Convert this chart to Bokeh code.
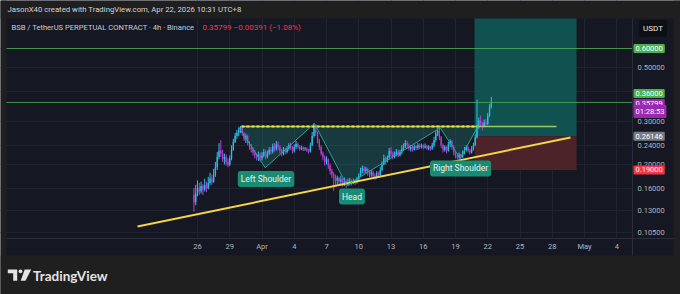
import math
from bokeh.plotting import figure
from bokeh.models import (ColumnDataSource, FixedTicker, Label, BoxAnnotation,
                          PolyAnnotation, PrintfTickFormatter)
from bokeh.embed import file_html
from bokeh.resources import INLINE

# ---------------- data ----------------
# x values are "day numbers" counted from March (Mar 26 = 26, Apr 1 = 32, May 1 = 62)
candle_start_day = 25 + 16 / 24      # first 4h candle: Mar 25 16:00
candle_step_day = 4 / 24
first_open = 0.150
closes = [
    0.140, 0.152, 0.160, 0.155, 0.163, 0.158, 0.165, 0.160, 0.168, 0.175,
    0.170, 0.182, 0.195, 0.215, 0.228, 0.222, 0.210, 0.215, 0.205, 0.200,
    0.212, 0.230, 0.248, 0.262, 0.270, 0.278, 0.283, 0.268, 0.255, 0.262,
    0.245, 0.238, 0.230, 0.224, 0.218, 0.214, 0.220, 0.212, 0.218, 0.225,
    0.215, 0.222, 0.230, 0.226, 0.238, 0.232, 0.242, 0.236, 0.228, 0.222,
    0.230, 0.225, 0.232, 0.240, 0.234, 0.228, 0.236, 0.243, 0.236, 0.232,
    0.235, 0.231, 0.233, 0.229, 0.226, 0.240, 0.262, 0.285, 0.270, 0.250,
    0.236, 0.222, 0.214, 0.205, 0.210, 0.198, 0.188, 0.182, 0.178, 0.172,
    0.176, 0.170, 0.174, 0.168, 0.171, 0.166, 0.169, 0.172, 0.168, 0.171,
    0.170, 0.174, 0.180, 0.188, 0.194, 0.188, 0.192, 0.186, 0.182, 0.186,
    0.180, 0.178, 0.184, 0.181, 0.190, 0.200, 0.212, 0.206, 0.214, 0.228,
    0.222, 0.215, 0.220, 0.226, 0.218, 0.224, 0.232, 0.238, 0.245, 0.240,
    0.232, 0.236, 0.230, 0.238, 0.234, 0.240, 0.236, 0.240, 0.235, 0.238,
    0.233, 0.237, 0.232, 0.240, 0.252, 0.268, 0.276, 0.258, 0.240, 0.230,
    0.236, 0.228, 0.242, 0.250, 0.236, 0.224, 0.218, 0.214, 0.220, 0.216,
    0.224, 0.230, 0.236, 0.228, 0.224, 0.232, 0.240, 0.258, 0.284, 0.304,
    0.296, 0.288, 0.298, 0.294, 0.318, 0.346, 0.35799,
]
highs = [
    0.160, 0.165, 0.172, 0.168, 0.170, 0.166, 0.175, 0.170, 0.178, 0.185,
    0.182, 0.192, 0.205, 0.225, 0.245, 0.252, 0.230, 0.222, 0.220, 0.212,
    0.218, 0.240, 0.255, 0.270, 0.278, 0.283, 0.288, 0.286, 0.272, 0.268,
    0.265, 0.250, 0.243, 0.236, 0.230, 0.222, 0.226, 0.224, 0.225, 0.232,
    0.230, 0.228, 0.236, 0.236, 0.244, 0.245, 0.250, 0.248, 0.240, 0.232,
    0.236, 0.234, 0.238, 0.245, 0.246, 0.238, 0.242, 0.250, 0.246, 0.240,
    0.239, 0.237, 0.236, 0.235, 0.232, 0.246, 0.272, 0.296, 0.292, 0.274,
    0.255, 0.240, 0.226, 0.218, 0.216, 0.212, 0.202, 0.192, 0.186, 0.182,
    0.180, 0.178, 0.180, 0.176, 0.177, 0.174, 0.175, 0.176, 0.174, 0.175,
    0.174, 0.178, 0.184, 0.194, 0.198, 0.197, 0.196, 0.194, 0.190, 0.190,
    0.189, 0.184, 0.188, 0.187, 0.196, 0.206, 0.220, 0.216, 0.218, 0.234,
    0.236, 0.226, 0.226, 0.232, 0.230, 0.230, 0.240, 0.244, 0.252, 0.250,
    0.244, 0.240, 0.240, 0.242, 0.241, 0.245, 0.244, 0.244, 0.242, 0.244,
    0.241, 0.240, 0.238, 0.246, 0.260, 0.276, 0.282, 0.285, 0.262, 0.244,
    0.240, 0.238, 0.248, 0.254, 0.252, 0.240, 0.228, 0.222, 0.224, 0.222,
    0.228, 0.236, 0.240, 0.238, 0.232, 0.238, 0.246, 0.266, 0.370, 0.312,
    0.318, 0.300, 0.306, 0.308, 0.326, 0.354, 0.380,
]
lows = [
    0.128, 0.136, 0.148, 0.150, 0.152, 0.150, 0.155, 0.154, 0.158, 0.165,
    0.165, 0.168, 0.178, 0.190, 0.210, 0.215, 0.205, 0.200, 0.198, 0.195,
    0.197, 0.208, 0.228, 0.245, 0.255, 0.262, 0.270, 0.262, 0.250, 0.245,
    0.240, 0.230, 0.224, 0.218, 0.212, 0.208, 0.207, 0.206, 0.208, 0.214,
    0.210, 0.212, 0.218, 0.220, 0.222, 0.226, 0.228, 0.230, 0.222, 0.216,
    0.218, 0.220, 0.222, 0.228, 0.230, 0.222, 0.224, 0.232, 0.232, 0.228,
    0.229, 0.227, 0.228, 0.225, 0.222, 0.224, 0.238, 0.258, 0.262, 0.244,
    0.230, 0.218, 0.208, 0.198, 0.200, 0.192, 0.182, 0.176, 0.156, 0.165,
    0.165, 0.164, 0.166, 0.162, 0.163, 0.160, 0.163, 0.164, 0.164, 0.166,
    0.165, 0.167, 0.172, 0.178, 0.184, 0.183, 0.184, 0.180, 0.177, 0.178,
    0.176, 0.173, 0.175, 0.177, 0.179, 0.188, 0.198, 0.200, 0.204, 0.210,
    0.215, 0.210, 0.212, 0.216, 0.214, 0.216, 0.220, 0.228, 0.234, 0.232,
    0.228, 0.226, 0.226, 0.228, 0.229, 0.230, 0.232, 0.233, 0.231, 0.233,
    0.230, 0.229, 0.228, 0.230, 0.236, 0.248, 0.262, 0.252, 0.234, 0.224,
    0.226, 0.222, 0.226, 0.236, 0.230, 0.218, 0.212, 0.210, 0.211, 0.211,
    0.213, 0.220, 0.226, 0.224, 0.220, 0.222, 0.228, 0.238, 0.256, 0.280,
    0.288, 0.276, 0.284, 0.286, 0.290, 0.314, 0.340,
]

tick_days = [26, 29, 32, 35, 38, 41, 44, 47, 50, 53, 56, 59, 62, 65]
tick_day_labels = ["26", "29", "Apr", "4", "7", "10", "13", "16", "19", "22", "25", "28", "May", "4"]
price_ticks = [0.105, 0.13, 0.16, 0.20, 0.24, 0.30, 0.40, 0.50, 0.60]

trend_days = [20.42, 60.70]
trend_prices = [0.1112, 0.2583]

neck_days = [30.09, 52.10, 59.40]
neck_price = 0.2867

hs_days = [29.81, 32.30, 36.88, 39.89, 48.58, 50.44, 52.14]
hs_prices = [0.2858, 0.1939, 0.2950, 0.1644, 0.2831, 0.2117, 0.2902]

hs_label_text = ["Left Shoulder", "Head", "Right Shoulder"]
hs_label_days = [32.37, 40.37, 50.47]
hs_label_prices = [0.1744, 0.1477, 0.1926]

hline_prices = [0.60, 0.36]
entry_price = 0.26146
stop_price = 0.19
position_days = [51.77, 61.26]
last_price = 0.35799
countdown = "01:28:53"

# ---------------- layout helpers (pixel -> data) ----------------
W, H = 680, 294
PX_DAY0, DAY0, PX_PER_DAY = 197.0, 26.0, 10.75
PY_REF, P_REF, PX_PER_LN = 48.0, 0.60, 105.6


def day_at(px):
    return DAY0 + (px - PX_DAY0) / PX_PER_DAY


def price_at(py):
    return P_REF * math.exp(-(py - PY_REF) / PX_PER_LN)


def py_of(price):
    return PY_REF + math.log(P_REF / price) * PX_PER_LN


PANEL = "#151823"
OUTER = "#1f1f1f"
SEP = "#2a2e39"
AXIS_TXT = "#b2b5be"
UP = "#29bfe8"
DOWN = "#b43fd3"
PANEL_L, PANEL_R, PANEL_T, PANEL_B = 6, 673, 18, 255
SCALE_X, TIME_Y = 632, 238

p = figure(width=W, height=H,
           x_range=(day_at(0), day_at(W)), y_range=(price_at(H), price_at(0)),
           y_axis_type="log", y_axis_location="right",
           output_backend="svg", toolbar_location=None,
           min_border_left=0, min_border_right=0, min_border_top=0, min_border_bottom=0)
p.title.visible = False
p.background_fill_color = PANEL
p.border_fill_color = OUTER
p.outline_line_color = None

# axes drawn at the pane separators
xt = FixedTicker(ticks=tick_days)
p.xaxis.ticker = xt
p.xgrid.ticker = xt
p.xaxis.major_label_overrides = {d: s for d, s in zip(tick_days, tick_day_labels)}
p.xaxis.fixed_location = price_at(TIME_Y)
p.xaxis.bounds = (day_at(PANEL_L), day_at(PANEL_R))
yt = FixedTicker(ticks=price_ticks)
p.yaxis.ticker = yt
p.ygrid.ticker = yt
p.yaxis.formatter = PrintfTickFormatter(format="%.5f")
p.yaxis.major_label_overrides = {0.4: ""}
p.yaxis.fixed_location = day_at(SCALE_X)
p.yaxis.bounds = (price_at(PANEL_B), price_at(PANEL_T))
for ax in (p.xaxis[0], p.yaxis[0]):
    ax.axis_line_color = SEP
    ax.major_tick_line_color = None
    ax.minor_tick_line_color = None
    ax.major_tick_in = 0
    ax.major_tick_out = 0
    ax.major_label_text_color = AXIS_TXT
    ax.major_label_text_font = "Roboto"
    ax.major_label_text_font_size = "7.5px"
p.xaxis.major_label_standoff = 3
p.yaxis.major_label_standoff = 5
p.xgrid.grid_line_color = "#1f2330"
p.ygrid.grid_line_color = "#1f2330"


def box(l, r, t, b, color, line=None):
    p.add_layout(BoxAnnotation(left=day_at(l), right=day_at(r), top=price_at(t), bottom=price_at(b),
                               fill_color=color, fill_alpha=1 if color else 0, line_color=line,
                               level="underlay"))


# pane areas that hide the grid (drawn after the grid, before glyphs and axes)
box(SCALE_X, PANEL_R, PANEL_T, PANEL_B, PANEL)
box(PANEL_L, SCALE_X, TIME_Y, PANEL_B, PANEL)
box(0, W, 0, PANEL_T, OUTER)
box(0, W, PANEL_B, H, OUTER)
box(0, PANEL_L, 0, H, OUTER)
box(PANEL_R, W, 0, H, OUTER)

# long position tool
p.quad(left=[position_days[0]], right=[position_days[1]], bottom=[entry_price], top=[price_at(PANEL_T)],
       fill_color="#0f524f", line_color=None)
p.quad(left=[position_days[0]], right=[position_days[1]], bottom=[stop_price], top=[entry_price],
       fill_color="#4b2329", line_color=None)

# head & shoulders fill
p.patch(hs_days, hs_prices, fill_color="#1f8f86", fill_alpha=0.28, line_color=None)

for hp in hline_prices:
    p.line([day_at(PANEL_L), day_at(SCALE_X)], [hp, hp], line_color="#4caf50", line_alpha=0.8, line_width=1)

# candles
opens = [first_open] + closes[:-1]
xs = [candle_start_day + i * candle_step_day for i in range(len(closes))]
cols = [UP if c >= o else DOWN for o, c in zip(opens, closes)]
src = ColumnDataSource(dict(x=xs, top=[max(o, c) for o, c in zip(opens, closes)],
                            bottom=[min(o, c) for o, c in zip(opens, closes)],
                            high=highs, low=lows, color=cols))
p.segment(x0="x", y0="low", x1="x", y1="high", line_color="color", line_width=1, source=src)
p.vbar(x="x", width=candle_step_day * 0.75, top="top", bottom="bottom",
       fill_color="color", line_color=None, source=src)

# trend line, neckline, pattern
p.line(trend_days, trend_prices, line_color="#f3d547", line_width=2)
p.line([neck_days[0], neck_days[2]], [neck_price, neck_price], line_color="#9ccc65", line_width=1.5)
p.line([neck_days[0], neck_days[1]], [neck_price, neck_price], line_color="#f2e23a", line_width=2,
       line_dash="3 2")
p.line(hs_days, hs_prices, line_color="#26a69a", line_width=1)

for t, d, pr in zip(hs_label_text, hs_label_days, hs_label_prices):
    p.add_layout(Label(x=d, y=pr, text=t, text_align="center", text_baseline="middle",
                       text_font="Roboto", text_font_size="8.5px", text_color="#e6f4ef",
                       background_fill_color="#1b8a72", padding=3, border_radius=3))

# header texts
p.add_layout(Label(x=day_at(7), y=price_at(8.5), text="JasonX40 created with TradingView.com, Apr 22, 2026 10:31 UTC+8",
                   text_font="Roboto", text_font_size="7.75px", text_color="#d1d4dc",
                   text_baseline="middle", text_align="left"))
p.add_layout(Label(x=day_at(11), y=price_at(26.5), text="BSB / TetherUS PERPETUAL CONTRACT · 4h · Binance",
                   text_font="Roboto", text_font_size="7.6px", text_color="#c9cbd1",
                   text_baseline="middle", text_align="left"))
p.add_layout(Label(x=day_at(202), y=price_at(26.5), text="0.35799  −0.00391 (−1.08%)",
                   text_font="Roboto", text_font_size="8px", text_color="#f23645",
                   text_baseline="middle", text_align="left"))

# currency box
p.add_layout(Label(x=day_at(652.5), y=price_at(28), text="USDT", text_font="Roboto", text_font_size="8px",
                   text_color="#e8e8e8", text_align="center", text_baseline="middle",
                   background_fill_color="#0e0f14", padding=4, border_radius=2))


# price badges
def badge(py, text, color):
    p.add_layout(Label(x=day_at(633), y=price_at(py), text=text, text_font="Roboto", text_font_size="7.5px",
                       text_color="#ffffff", text_align="left", text_baseline="middle",
                       background_fill_color=color, padding=2, border_radius=1))


badge(py_of(0.60), "0.60000", "#4caf50")
badge(py_of(0.36) - 9, "0.36000", "#4caf50")
badge(py_of(last_price) + 0.5, "0.35799", "#9c27b0")
badge(py_of(last_price) + 8.5, countdown, "#9c27b0")
badge(py_of(entry_price), "0.26146", "#787b86")
badge(py_of(stop_price), "0.19000", "#f23645")


# TradingView logo
def poly(pts, color):
    p.add_layout(PolyAnnotation(xs=[day_at(a) for a, b in pts], ys=[price_at(b) for a, b in pts],
                                fill_color=color, fill_alpha=1, line_color=None, level="overlay"))


LOGO = "#e3e3e3"
poly([(7.3, 269), (16.7, 269), (16.7, 280.3), (12.7, 280.3), (12.7, 272.8), (7.3, 272.8)], LOGO)
poly([(20 + 1.9 * math.cos(k * math.pi / 6), 270.8 + 1.9 * math.sin(k * math.pi / 6)) for k in range(12)], LOGO)
poly([(24.2, 269), (30.7, 269), (25.0, 280.3), (20.2, 280.3)], LOGO)
p.add_layout(Label(x=day_at(32.5), y=price_at(275.5), text="TradingView", text_font="Lato",
                   text_font_style="bold", text_font_size="13.5px", text_color=LOGO,
                   text_baseline="middle", text_align="left"))

open("out.html", "w").write(file_html(p, INLINE))
